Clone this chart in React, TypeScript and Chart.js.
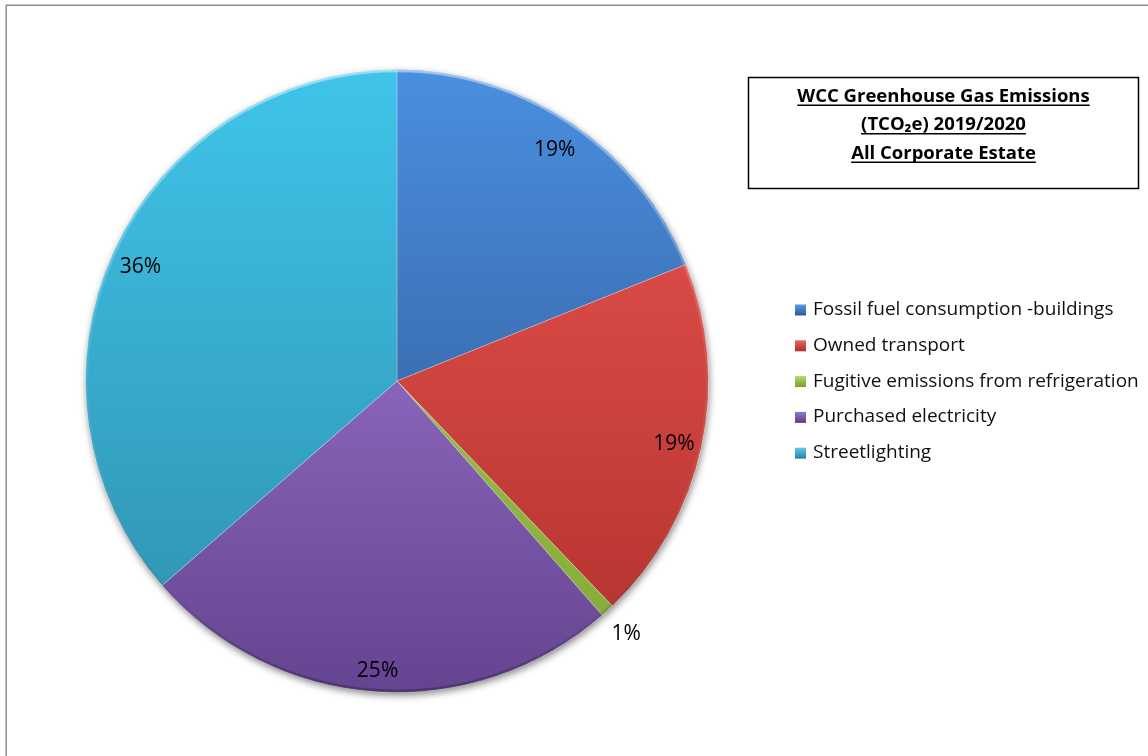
import React, { useEffect, useRef } from "react";
import { Chart, registerables } from "chart.js";

Chart.register(...registerables);

const categories = [
  "Fossil fuel consumption -buildings",
  "Owned transport",
  "Fugitive emissions from refrigeration",
  "Purchased electricity",
  "Streetlighting",
];
const shares = [18.9, 18.95, 0.7, 25.05, 36.4];
const titleLines = ["WCC Greenhouse Gas Emissions", "(TCO\u2082e) 2019/2020", "All Corporate Estate"];
const sliceTop = ["#4a8fe0", "#ec5652", "#a6d352", "#ae84e2", "#40c4ea"];
const sliceBottom = ["#2c4f86", "#b0302c", "#82a838", "#644490", "#2e8eac"];
const legendTop = ["#5b9be3", "#e86662", "#b2d866", "#9676c8", "#5ccbe8"];
const legendBottom = ["#2f5f9f", "#b3322e", "#7fa334", "#603f8a", "#2a87a6"];

const W = 1148;
const H = 756;

const pageFramePlugin = {
  id: "pageFrame",
  beforeDraw(chart: any) {
    const ctx = chart.ctx;
    ctx.save();
    ctx.fillStyle = "#ffffff";
    ctx.fillRect(0, 0, W, H);
    ctx.strokeStyle = "#8c8c8c";
    ctx.lineWidth = 1.5;
    ctx.strokeRect(6.25, 5.25, 1300, 900);
    ctx.restore();
  },
};

const pieShadowPlugin = {
  id: "pieShadow",
  beforeDatasetsDraw(chart: any) {
    const meta = chart.getDatasetMeta(0);
    if (!meta.data.length) return;
    const arc = meta.data[0];
    const ctx = chart.ctx;
    ctx.save();
    ctx.shadowColor = "rgba(0,0,0,0.45)";
    ctx.shadowBlur = 7;
    ctx.shadowOffsetX = 1;
    ctx.shadowOffsetY = 3;
    ctx.fillStyle = "#ffffff";
    ctx.beginPath();
    ctx.arc(arc.x, arc.y, arc.outerRadius, 0, Math.PI * 2);
    ctx.fill();
    ctx.restore();
  },
  afterDatasetsDraw(chart: any) {
    const meta = chart.getDatasetMeta(0);
    if (!meta.data.length) return;
    const arc = meta.data[0];
    const ctx = chart.ctx;
    ctx.save();
    const g = ctx.createLinearGradient(0, arc.y - arc.outerRadius, 0, arc.y + arc.outerRadius);
    g.addColorStop(0, "rgba(255,255,255,0.45)");
    g.addColorStop(0.5, "rgba(255,255,255,0.05)");
    g.addColorStop(1, "rgba(0,0,0,0.25)");
    ctx.strokeStyle = g;
    ctx.lineWidth = 2.5;
    ctx.beginPath();
    ctx.arc(arc.x, arc.y, arc.outerRadius - 1.5, 0, Math.PI * 2);
    ctx.stroke();
    ctx.restore();
  },
};

const sliceLabelPlugin = {
  id: "sliceLabels",
  afterDatasetsDraw(chart: any) {
    const meta = chart.getDatasetMeta(0);
    const data = chart.data.datasets[0].data as number[];
    const total = data.reduce((a, b) => a + b, 0);
    const ctx = chart.ctx;
    ctx.save();
    ctx.font = "21px 'Open Sans'";
    ctx.fillStyle = "#000000";
    ctx.textAlign = "center";
    ctx.textBaseline = "middle";
    meta.data.forEach((arc: any, i: number) => {
      const pct = (data[i] / total) * 100;
      const mid = (arc.startAngle + arc.endAngle) / 2;
      const f = pct < 3 ? 1.09 : 0.905 + 0.02 * Math.max(0, Math.sin(mid));
      const r = arc.outerRadius * f;
      const x = arc.x + Math.cos(mid) * r;
      const y = arc.y + Math.sin(mid) * r + 3;
      ctx.fillText(Math.round(pct) + "%", x, y);
    });
    ctx.restore();
  },
};

const titleBoxPlugin = {
  id: "titleBox",
  afterDraw(chart: any) {
    const ctx = chart.ctx;
    ctx.save();
    ctx.strokeStyle = "#000000";
    ctx.lineWidth = 1.5;
    ctx.strokeRect(748.5, 77.5, 390, 111);
    ctx.font = "bold 18.5px 'Open Sans'";
    ctx.fillStyle = "#000000";
    ctx.textAlign = "center";
    ctx.textBaseline = "alphabetic";
    const cx = 943.5;
    const baselines = [101.5, 130, 158.5];
    titleLines.forEach((t, i) => {
      ctx.fillText(t, cx, baselines[i]);
      const w = ctx.measureText(t).width;
      ctx.fillRect(cx - w / 2, baselines[i] + 3, w, 1.5);
    });
    ctx.restore();
  },
};

const legendPlugin = {
  id: "customLegend",
  afterDraw(chart: any) {
    const ctx = chart.ctx;
    ctx.save();
    ctx.font = "19px 'Open Sans'";
    ctx.textAlign = "left";
    ctx.textBaseline = "middle";
    const labels = chart.data.labels as string[];
    labels.forEach((lab, i) => {
      const y = 309.5 + i * 35.8;
      const g = ctx.createLinearGradient(0, y - 5, 0, y + 5);
      g.addColorStop(0, legendTop[i]);
      g.addColorStop(1, legendBottom[i]);
      ctx.fillStyle = g;
      ctx.fillRect(795, y - 5, 11, 11);
      ctx.fillStyle = "#111111";
      ctx.fillText(lab, 813, y);
    });
    ctx.restore();
  },
};

export default function App() {
  const ref = useRef<HTMLCanvasElement | null>(null);
  useEffect(() => {
    if (!ref.current) return;
    const chart = new Chart(ref.current, {
      type: "pie",
      data: {
        labels: categories,
        datasets: [
          {
            data: shares,
            backgroundColor: (c: any) => {
              const chart = c.chart;
              const area = chart.chartArea;
              const i = c.dataIndex;
              if (!area || i === undefined) return sliceTop[i || 0];
              const g = chart.ctx.createLinearGradient(0, area.top, 0, area.bottom);
              g.addColorStop(0, sliceTop[i]);
              g.addColorStop(1, sliceBottom[i]);
              return g;
            },
            borderColor: "rgba(255,255,255,0.25)",
            borderWidth: 1,
            hoverOffset: 0,
            offset: 0,
          },
        ],
      },
      options: {
        responsive: false,
        animation: false,
        devicePixelRatio: 1,
        layout: { padding: { left: 84, top: 69, right: 438, bottom: 63 } },
        plugins: {
          legend: { display: false },
          tooltip: { enabled: false },
          title: { display: false },
        },
        events: [],
      },
      plugins: [pageFramePlugin, pieShadowPlugin, sliceLabelPlugin, titleBoxPlugin, legendPlugin],
    });
    return () => chart.destroy();
  }, []);
  return (
    <div style={{ position: "absolute", left: 0, top: 0, width: W, height: H, overflow: "hidden" }}>
      <canvas ref={ref} width={W} height={H} style={{ display: "block" }} />
    </div>
  );
}
